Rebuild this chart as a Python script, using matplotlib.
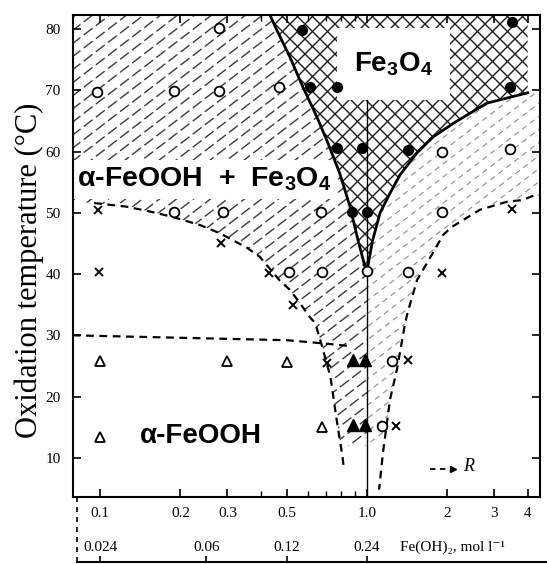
import matplotlib
matplotlib.use('Agg')
import matplotlib.pyplot as plt
import matplotlib.transforms as mtransforms
from matplotlib.collections import LineCollection
import numpy as np

plt.rcParams['mathtext.fontset'] = 'custom'
plt.rcParams['mathtext.rm'] = 'Liberation Sans:bold'
plt.rcParams['mathtext.bf'] = 'Liberation Sans:bold'
plt.rcParams['font.family'] = ['Liberation Serif', 'DejaVu Serif']

# phase boundaries (R = Fe(OH)2 ratio, T = oxidation temperature)
left_line_R = [0.433, 0.46, 0.515, 0.576, 0.65, 0.714, 0.79, 0.864, 0.925, 0.983, 1.0]
left_line_T = [82.3, 79.8, 75.4, 70.5, 65.6, 61.4, 56.5, 51.0, 45.6, 41.2, 40.5]
right_curve_R = [1.0, 1.05, 1.12, 1.22, 1.33, 1.54, 1.77, 2.14, 2.81, 4.0]
right_curve_T = [40.5, 45.5, 50.0, 53.2, 56.2, 59.8, 62.4, 64.8, 67.9, 69.6]
left_dash_R = [0.095, 0.126, 0.158, 0.188, 0.237, 0.28, 0.355, 0.397, 0.47, 0.515,
               0.56, 0.61, 0.64, 0.68, 0.73, 0.77, 0.81, 0.82]
left_dash_T = [51.6, 51.0, 50.1, 49.3, 48.0, 46.7, 44.3, 42.8, 39.0, 37.4,
               35.3, 33.0, 32.0, 28.1, 23.2, 16.2, 10.2, 8.0]
right_dash_R = [4.2, 3.84, 3.34, 2.65, 2.08, 1.93, 1.79, 1.54, 1.42, 1.39, 1.295, 1.22, 1.148, 1.11]
right_dash_T = [52.8, 52.1, 51.8, 50.5, 47.7, 46.4, 43.9, 39.0, 33.7, 32.0, 24.4, 19.5, 10.8, 4.8]
horiz_dash_R = [0.079, 0.5, 0.68, 0.88]
horiz_dash_T = [30.0, 29.2, 28.7, 28.2]

# experimental points
open_circle_R = [0.28, 0.097, 0.19, 0.28, 0.47, 0.19, 0.29, 0.67, 0.51, 0.68, 1.0, 1.42, 1.91, 3.43, 1.91, 1.24, 1.14]
open_circle_T = [80.2, 69.7, 69.9, 69.9, 70.5, 50.1, 50.1, 50.1, 40.3, 40.3, 40.5, 40.3, 60.0, 60.4, 50.1, 25.8, 15.2]
filled_circle_R = [0.57, 0.61, 0.77, 0.77, 0.96, 1.42, 0.88, 1.0, 3.49, 3.43]
filled_circle_T = [79.9, 70.5, 70.5, 60.6, 60.6, 60.3, 50.1, 50.1, 81.1, 70.6]
open_tri_R = [0.1, 0.3, 0.5, 0.1, 0.68]
open_tri_T = [25.8, 25.8, 25.7, 13.4, 15.1]
filled_tri_R = [0.89, 0.98, 0.89, 0.98]
filled_tri_T = [26.0, 26.0, 15.3, 15.3]
cross_R = [0.098, 0.099, 0.285, 0.43, 0.53, 0.71, 1.43, 1.29, 1.91, 3.49]
cross_T = [50.5, 40.3, 45.1, 40.2, 35.0, 25.5, 26.0, 15.2, 40.2, 50.6]

x_ticks = [0.1, 0.2, 0.3, 0.5, 1.0, 2, 3, 4]
x_tick_labels = ['0.1', '0.2', '0.3', '0.5', '1.0', '2', '3', '4']
x_minor = [0.4, 0.6, 0.7, 0.8, 0.9]
y_ticks = [10, 20, 30, 40, 50, 60, 70, 80]
fe_ticks = [0.024, 0.06, 0.12, 0.24]
fe_labels = ['0.024', '0.06', '0.12', '0.24']
fe_per_R = 0.24

xmin, xmax = 0.0792, 4.45
ymin, ymax = 3.6, 82.3
t_cut = 12.0

W, H = 547, 564
fig = plt.figure(figsize=(W / 100, H / 100), dpi=100)
ax = fig.add_axes([0.1335, 0.1188, 0.8537, 0.8546])
ax.set_xscale('log')
ax.set_xlim(xmin, xmax)
ax.set_ylim(ymin, ymax)


def hatch(region, spacing, run, color, lw, ls):
    # slanted lines in pixel space (run = dx per unit dy), clipped to the region
    segs = []
    for c in np.arange(-2 * H - W, W + 2 * H, spacing):
        segs.append([(c, 0), (c + run * H, H)])
    lc = LineCollection(segs, transform=mtransforms.IdentityTransform(),
                        colors=color, linewidths=lw, linestyles=ls, zorder=1)
    ax.add_collection(lc, autolim=False)
    lc.set_clip_path(region)


# hatched regions
ld_R = np.array(left_dash_R)
ld_T = np.array(left_dash_T)
keep = ld_T >= t_cut
r_cut_left = np.interp(t_cut, ld_T[::-1], ld_R[::-1])
a1_R = [xmin] + left_line_R + [1.0, r_cut_left] + list(ld_R[keep][::-1]) + [xmin]
a1_T = [ymax] + left_line_T + [t_cut, t_cut] + list(ld_T[keep][::-1]) + [51.8]
a1 = ax.fill(a1_R, a1_T, facecolor='none', edgecolor='none', linewidth=0)[0]
hatch(a1, 17, 1.3, '#3a3a3a', 1.0, (0, (8, 3)))

rd_R = np.array(right_dash_R)
rd_T = np.array(right_dash_T)
keep = rd_T >= t_cut
r_cut_right = np.interp(t_cut, rd_T[::-1], rd_R[::-1])
a2_R = right_curve_R + [xmax, xmax] + list(rd_R[keep]) + [r_cut_right, 1.0]
a2_T = right_curve_T + [69.6, 52.8] + list(rd_T[keep]) + [t_cut, t_cut]
a2 = ax.fill(a2_R, a2_T, facecolor='none', edgecolor='none', linewidth=0)[0]
hatch(a2, 17, 1.3, '#8c8c8c', 0.8, (0, (5, 4)))

fe_R = left_line_R + right_curve_R[1:] + [right_curve_R[-1]]
fe_T = left_line_T + right_curve_T[1:] + [ymax]
fe3o4 = ax.fill(fe_R, fe_T, facecolor='none', edgecolor='none', linewidth=0)[0]
hatch(fe3o4, 15, 1, '#1a1a1a', 1.0, '-')
hatch(fe3o4, 15, -1, '#1a1a1a', 1.0, '-')

# boundaries
ax.plot(left_line_R, left_line_T, color='k', lw=2.0, zorder=3)
ax.plot(right_curve_R, right_curve_T, color='k', lw=2.0, zorder=3)
dash = (0, (3.5, 2.5))
ax.plot(left_dash_R, left_dash_T, color='k', lw=1.6, ls=dash, zorder=3)
ax.plot(right_dash_R, right_dash_T, color='k', lw=1.6, ls=dash, zorder=3)
ax.plot(horiz_dash_R, horiz_dash_T, color='k', lw=1.6, ls=dash, zorder=3)
ax.plot([1.0, 1.0], [68.4, ymin], color='k', lw=1.0, zorder=3)

# points
ax.plot(open_circle_R, open_circle_T, 'o', ms=7, mfc='white', mec='k', mew=1.3, ls='none', zorder=5)
ax.plot(filled_circle_R, filled_circle_T, 'o', ms=7, mfc='k', mec='k', ls='none', zorder=5)
ax.plot(open_tri_R, open_tri_T, '^', ms=7, mfc='white', mec='k', mew=1.3, ls='none', zorder=5)
ax.plot(filled_tri_R, filled_tri_T, '^', ms=8, mfc='k', mec='k', ls='none', zorder=5)
ax.plot(cross_R, cross_T, 'x', ms=6, mec='k', mew=1.4, ls='none', zorder=5)

# labels in the diagram
ax.fill_between([0.772, 2.045], 68.4, 80.2, color='white', lw=0, zorder=2)
ax.text(1.26, 74.3, 'Fe$_3$O$_4$', fontsize=20, fontweight='bold', family='Liberation Sans',
        ha='center', va='center', zorder=4)
ax.text(0.082, 55.5, '\u03b1-FeOOH  +  Fe$_3$O$_4$', fontsize=20.5, fontweight='bold',
        family='Liberation Sans', ha='left', va='center', zorder=2,
        bbox=dict(boxstyle='square,pad=0.2', fc='white', ec='none'))
ax.text(0.141, 13.6, '\u03b1-FeOOH', fontsize=20, fontweight='bold', family='Liberation Sans',
        ha='left', va='center', zorder=4)

ax.plot([1.72, 2.02], [8.2, 8.2], color='k', lw=1.3, ls=(0, (3, 2.5)), zorder=4)
ax.plot([2.1], [8.2], marker='>', ms=5, color='k', zorder=4)
ax.text(2.3, 8.6, 'R', fontsize=13, fontstyle='italic', ha='left', va='center', zorder=4)

# axes styling
for s in ax.spines.values():
    s.set_linewidth(1.5)
ax.set_xticks(x_ticks)
ax.set_xticklabels(x_tick_labels)
ax.set_xticks(x_minor, minor=True)
ax.set_xticklabels([], minor=True)
ax.set_yticks(y_ticks)
ax.tick_params(axis='both', which='major', direction='in', length=6, width=1.2,
               top=True, right=True, labelsize=11)
ax.tick_params(axis='x', which='major', pad=7)
ax.tick_params(axis='y', which='major', pad=9)
ax.tick_params(axis='x', which='minor', direction='in', length=4, width=1.0, top=True)
ax.set_ylabel('Oxidation temperature (\u00b0C)', fontsize=22)
ax.yaxis.set_label_coords(-0.063, 0.47)

# second concentration scale below the R axis
blend = mtransforms.blended_transform_factory(ax.transData, ax.transAxes)
ax.plot([0.0086, 0.0086], [0.0, -0.14], transform=ax.transAxes, clip_on=False,
        color='k', lw=1.2, ls=(0, (3, 3)))
ax.plot([0.0086, 1.02], [-0.135, -0.135], transform=ax.transAxes, clip_on=False,
        color='k', lw=1.5)
fe_pos = [f / fe_per_R for f in fe_ticks]
ax.vlines(fe_pos, -0.135, -0.122, transform=blend, clip_on=False, color='k', lw=1.2)
for p, lab in zip(fe_pos, fe_labels):
    ax.text(p, -0.104, lab, transform=blend, ha='center', va='center', fontsize=11)
ax.text(1.33, -0.104, 'Fe(OH)\u2082, mol l\u207b\u00b9', transform=blend, ha='left',
        va='center', fontsize=11)

fig.savefig('out.png', dpi=100)
